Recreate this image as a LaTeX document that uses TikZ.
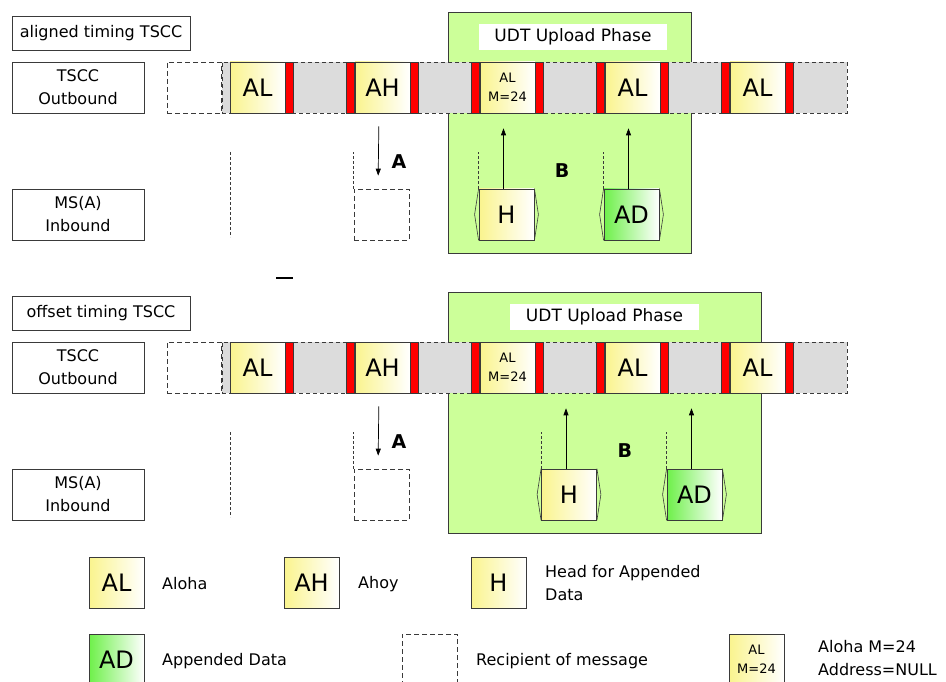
\documentclass[tikz,border=0pt]{standalone}
\usepackage{fontspec}
\setmainfont{DejaVu Sans}
\usetikzlibrary{arrows.meta}
\definecolor{tline}{HTML}{3A3A3A}
\definecolor{tgray}{HTML}{DCDCDC}
\definecolor{tred}{HTML}{FF0000}
\definecolor{tyel}{HTML}{FAF48E}
\definecolor{tgrn}{HTML}{6EF04A}
\definecolor{tphase}{HTML}{CCFF99}
\tikzset{
  n/.style     = {draw=tline, fill=white, line width=0.8pt, align=center,
                  inner sep=0pt, font=\fontsize{16}{23}\selectfont},
  lb/.style    = {n, minimum width=132, minimum height=51},
  slot/.style  = {draw=tline, line width=0.8pt, left color=tyel, right color=white,
                  minimum width=55, minimum height=51, inner sep=0pt, align=center,
                  font=\fontsize{24}{28}\selectfont},
  slots/.style = {slot, font=\fontsize{13}{19}\selectfont},
  dslot/.style = {slot, left color=tgrn},
  rb/.style    = {draw=tline, fill=tred, line width=0.6pt, minimum width=8,
                  minimum height=51, inner sep=0pt},
  gap/.style   = {draw=tline, dash pattern=on 4pt off 3pt, fill=tgray, line width=0.6pt,
                  minimum height=51, inner sep=0pt},
  rcp/.style   = {draw=tline, dash pattern=on 5pt off 3pt, fill=white, line width=0.6pt,
                  minimum width=55, minimum height=51, inner sep=0pt},
  ph/.style    = {draw=tline, fill=tphase, line width=0.8pt, inner sep=0pt},
  ul/.style    = {fill=white, inner sep=0pt, minimum height=26,
                  font=\fontsize{17}{20}\selectfont},
  a/.style     = {-{Triangle[length=7pt,width=5pt]}, line width=0.7pt},
  dl/.style    = {dash pattern=on 3pt off 2pt, draw=tline, line width=0.6pt},
  brk/.style   = {draw=tline, line width=0.6pt},
  big/.style   = {font=\fontsize{19}{22}\selectfont\bfseries, inner sep=0pt},
  lt/.style    = {anchor=west, align=left, inner sep=0pt,
                  font=\fontsize{16}{23}\selectfont},
}

\begin{document}
\begin{tikzpicture}[x=1pt, y=-1pt]
\clip (0,0) rectangle (946,682);

% two timing variants, one above the other
\foreach \n/\dy/\t/\gr/\ux/\uw/\hx/\dx in
    {a/0/aligned timing TSCC/691/573/188/506.5/631.5,
     o/280/offset timing TSCC/761/604.5/189/569/694.5} {
  \node[ph, anchor=north west, minimum width=\gr-448, minimum height=241]
    (ph\n) at (448,{12+\dy}) {};
  \node[ul, minimum width=\uw] (ul\n) at (\ux,{37+\dy}) {UDT Upload Phase};

  \node[n, minimum width=178, minimum height=34] (tt\n) at (101,{33+\dy}) {\t};
  \node[lb] (out\n) at (78,{87.5+\dy})  {TSCC\\Outbound};
  \node[lb] (in\n)  at (78,{214.5+\dy}) {MS(A)\\Inbound};

  \node[rcp, minimum width=54] (emp\n) at (194,{87.5+\dy}) {};
  \node[gap, minimum width=625] (gap\n) at (534.5,{87.5+\dy}) {};
  \foreach \k/\s/\l in {0/slot/AL, 1/slot/AH, 2/slots/{AL\\M=24}, 3/slot/AL, 4/slot/AL} {
    \node[\s] (s\n\k) at ({257.5+125*\k},{87.5+\dy}) {\l};
    \node[rb, anchor=west] (re\n\k) at (s\n\k.east) {};
  }
  \foreach \k in {1,...,4} {
    \node[rb, anchor=east] (rw\n\k) at (s\n\k.west) {};
  }

  % addressed station
  \node[rcp] (rcp\n) at (381.5,{214.5+\dy}) {};
  \draw[a, shorten <=13pt, shorten >=13pt] ([xshift=-3.5]s\n1.south) -- ([xshift=-3.5]rcp\n.north);
  \node[big] (la\n) at (399,{162+\dy}) {A};
  \draw[dl] (230,{152+\dy}) -- ++(0,85);
  \draw[dl] (rcp\n.north west) -- ++(0,-37);

  % upload of head and data
  \node[slot]  (h\n) at (\hx,{214.5+\dy}) {H};
  \node[dslot] (d\n) at (\dx,{214.5+\dy}) {AD};
  \foreach \b in {h\n,d\n} {
    \draw[brk] (\b.north west) -- ([xshift=-4]\b.west) -- (\b.south west);
    \draw[brk] (\b.north east) -- ([xshift=4]\b.east) -- (\b.south east);
    \draw[dl] (\b.north west) -- ++(0,-37);
    \draw[a, shorten >=15pt] ([xshift=-3]\b.north) -- ([xshift=-3]\b.north |- gap\n.south);
  }
  \node[big] (lb\n) at ({(\hx+\dx)/2-7},{171+\dy}) {B};
}

\draw[line width=1.2pt] (276,278) -- (293,278);

% legend
\node[slot]  (kal) at (116.5,582.5) {AL};
\node[lt]    (tal) at (162,584) {Aloha};
\node[slot]  (kah) at (311.5,582.5) {AH};
\node[lt]    (tah) at (358,584) {Ahoy};
\node[slot]  (kh)  at (498.5,583) {H};
\node[lt]    (th)  at (545,583) {Head for Appended\\Data};
\node[dslot] (kad) at (116.5,659.5) {AD};
\node[lt]    (tad) at (162,661) {Appended Data};
\node[rcp]   (krc) at (429.5,659.5) {};
\node[lt]    (trc) at (476,661) {Recipient of message};
\node[slots] (kam) at (756.5,659.5) {AL\\M=24};
\node[lt]    (tam) at (818,658) {Aloha M=24\\Address=NULL};

\end{tikzpicture}
\end{document}
